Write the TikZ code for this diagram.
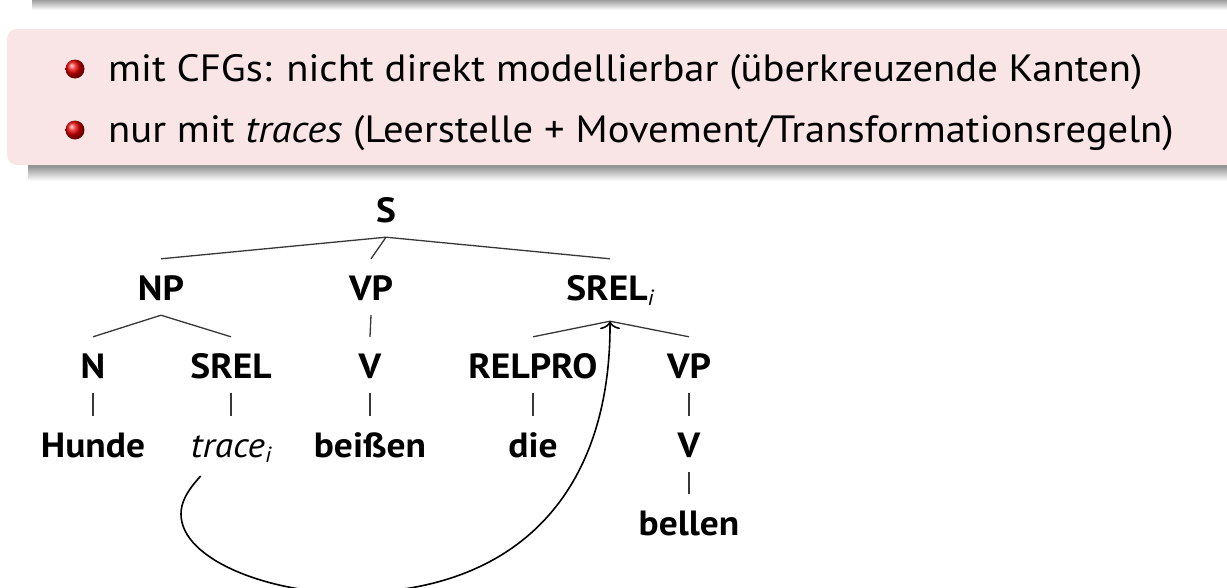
\documentclass[tikz,border=0pt]{standalone}
\usepackage{fontspec}
\setmainfont{PT Sans}[FakeStretch=1.07]
\usetikzlibrary{arrows.meta}
\definecolor{blockpink}{RGB}{249,229,230}
\definecolor{treeline}{RGB}{55,55,55}
\begin{document}
\begin{tikzpicture}[x=1pt,y=-1pt,
  lbl/.style={font=\fontsize{35}{40}\selectfont\bfseries, inner xsep=0pt, inner ysep=11pt,
    text height=30pt, text depth=4pt, anchor=base},
  leafit/.style={lbl, font=\fontsize{35}{40}\selectfont\itshape},
  edge/.style={draw=treeline, line width=1.3pt},
  item/.style={font=\fontsize{38}{44}\selectfont, anchor=base west, inner sep=0pt},
  movearrow/.style={draw=black, line width=1.6pt, -{To[length=8pt,width=20pt]}}]
\useasboundingbox (0,0) rectangle (1227,587);
% shadow of the block above
\shade[top color=black!38, bottom color=white] (32,0) rectangle (1227,10);
% pink block with shadow
\shade[top color=black!45, bottom color=white] (28,165) rectangle (1227,181);
\fill[blockpink, rounded corners=10pt] (7,29) rectangle (1245,165);
% bullets
\shade[ball color=red!90!black] (75,69) circle (9.5pt);
\shade[ball color=red!90!black] (75,130) circle (9.5pt);
\node[item] (l1) at (108,81) {mit CFGs: nicht direkt modellierbar (überkreuzende Kanten)};
\node[item] (l2) at (108,142) {nur mit \textit{traces} (Leerstelle + Movement/Transformationsregeln)};
% tree
\newcommand{\subi}{\raisebox{-5pt}{\fontsize{22}{22}\selectfont\mdseries\itshape i}}
\node[lbl] (S) at (386,222) {S};
\node[lbl] (NP) at (161,300) {NP};
\node[lbl] (VP) at (371,300) {VP};
\node[lbl, text depth=10pt] (SRELi) at (610,300) {SREL\subi};
\node[lbl] (N) at (93,378) {N};
\node[lbl] (SREL) at (231,378) {SREL};
\node[lbl] (V) at (370,378) {V};
\node[lbl] (RELPRO) at (533,378) {RELPRO};
\node[lbl] (VPb) at (689,378) {VP};
\node[lbl] (Hunde) at (93,457) {Hunde};
\node[leafit] (trace) at (231,457) {trace\subi};
\node[lbl] (beissen) at (370,457) {beißen};
\node[lbl] (die) at (533,457) {die};
\node[lbl] (Vb) at (689,457) {V};
\node[lbl] (bellen) at (689,535) {bellen};
\draw[edge] (S.south) -- (NP.north);
\draw[edge] (S.south) -- (VP.north);
\draw[edge] (S.south) -- (SRELi.north);
\draw[edge] (NP.south) -- (N.north);
\draw[edge] (NP.south) -- (SREL.north);
\draw[edge] (VP.south) -- (V.north);
\draw[edge] (SRELi.south) -- (RELPRO.north);
\draw[edge] (SRELi.south) -- (VPb.north);
\draw[edge] (N.south) -- (Hunde.north);
\draw[edge] (SREL.south) -- (trace.north);
\draw[edge] (V.south) -- (beissen.north);
\draw[edge] (RELPRO.south) -- (die.north);
\draw[edge] (VPb.south) -- (Vb.north);
\draw[edge] (Vb.south) -- (bellen.north);
% movement arrow
\coordinate (cstart) at (200.7,476);
\draw[movearrow] (cstart) .. controls (186,492) and (181,503) .. (181,514)
  .. controls (181,560) and (270,593) .. (348,593)
  .. controls (520,593) and (611,490) .. (SRELi.south);
\end{tikzpicture}
\end{document}
